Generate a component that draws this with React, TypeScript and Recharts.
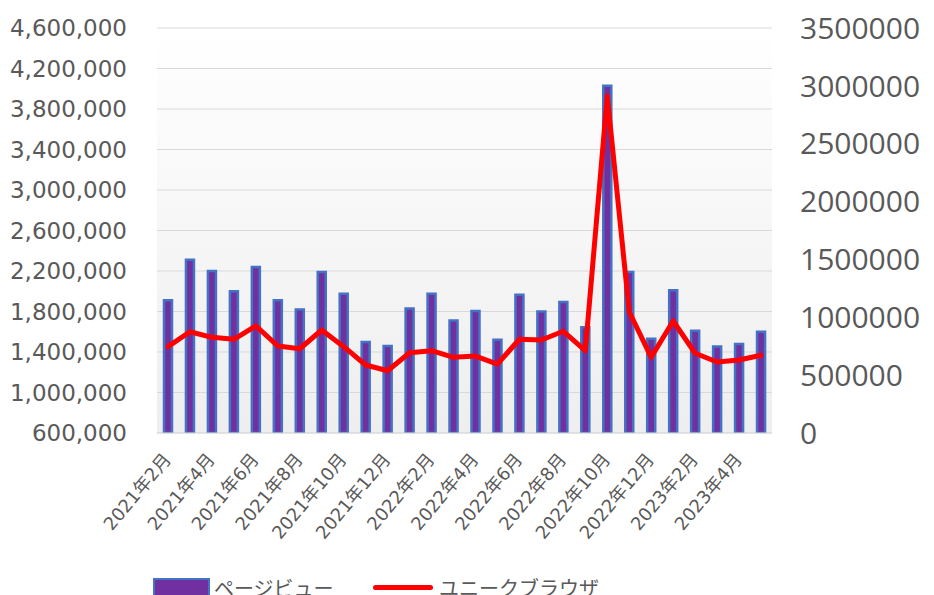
import React from 'react';
import { ComposedChart, Bar, Line, XAxis, YAxis, CartesianGrid, Legend } from 'recharts';

const months = [
  '2021年2月', '2021年3月', '2021年4月', '2021年5月', '2021年6月', '2021年7月', '2021年8月',
  '2021年9月', '2021年10月', '2021年11月', '2021年12月', '2022年1月', '2022年2月', '2022年3月',
  '2022年4月', '2022年5月', '2022年6月', '2022年7月', '2022年8月', '2022年9月', '2022年10月',
  '2022年11月', '2022年12月', '2023年1月', '2023年2月', '2023年3月', '2023年4月', '2023年5月',
];

const pageViews = [
  1910000, 2310000, 2200000, 2000000, 2240000, 1910000, 1820000,
  2190000, 1975000, 1500000, 1460000, 1830000, 1975000, 1710000,
  1805000, 1520000, 1965000, 1800000, 1895000, 1645000, 4030000,
  2190000, 1530000, 2010000, 1610000, 1455000, 1480000, 1600000,
];

const uniqueBrowsers = [
  746000, 875000, 827000, 810000, 925000, 752000, 728000,
  890000, 746000, 588000, 538000, 694000, 711000, 654000,
  665000, 596000, 810000, 804000, 879000, 711000, 2912000,
  1048000, 654000, 968000, 689000, 614000, 631000, 672000,
];

const leftTicks = [600000, 1000000, 1400000, 1800000, 2200000, 2600000, 3000000, 3400000, 3800000, 4200000, 4600000];
const rightTicks = [0, 500000, 1000000, 1500000, 2000000, 2500000, 3000000, 3500000];

const seriesNames = { pv: 'ページビュー', ub: 'ユニークブラウザ' };

const data = months.map((m, i) => ({ month: m, pv: pageViews[i], ub: uniqueBrowsers[i] }));

const XTick = (props: any) => {
  const { x, y, payload } = props;
  return (
    <g transform={`translate(${x + 4},${y + 27}) rotate(-50)`}>
      <text
        x={0}
        y={0}
        textAnchor="end"
        fill="#595959"
        fontSize={18}
        fontFamily="'DejaVu Sans', 'Noto Sans CJK JP', sans-serif"
      >
        {payload.value}
      </text>
    </g>
  );
};

const LegendContent = () => (
  <div style={{ position: 'relative', width: 500, height: 40, fontFamily: "'Noto Sans CJK JP', sans-serif", color: '#595959' }}>
    <div style={{ position: 'absolute', left: 5, top: 10, width: 53, height: 18, background: '#7030a0', border: '2px solid #4472c4' }} />
    <div style={{ position: 'absolute', left: 66, top: 8, fontSize: 20, lineHeight: '24px', whiteSpace: 'nowrap' }}>{seriesNames.pv}</div>
    <div style={{ position: 'absolute', left: 225, top: 17, width: 60, height: 5, borderRadius: 3, background: '#ff0000' }} />
    <div style={{ position: 'absolute', left: 291, top: 8, fontSize: 20, lineHeight: '24px', whiteSpace: 'nowrap' }}>{seriesNames.ub}</div>
  </div>
);

export default function App() {
  return (
    <div style={{ width: 926, height: 587, overflow: 'hidden' }}>
      <ComposedChart width={926} height={587} data={data} margin={{ top: 20, right: 0, bottom: 32, left: 0 }}>
        <defs>
          <linearGradient id="plotBg" x1="0" y1="0" x2="0" y2="1">
            <stop offset="0%" stopColor="#ffffff" />
            <stop offset="100%" stopColor="#eeeeee" />
          </linearGradient>
        </defs>
        <CartesianGrid vertical={false} yAxisId="left" stroke="#d9d9d9" fill="url(#plotBg)" fillOpacity={1} />
        <XAxis
          dataKey="month"
          interval={1}
          tickLine={false}
          tickSize={0}
          tickMargin={0}
          axisLine={{ stroke: '#d9d9d9' }}
          height={130}
          tick={<XTick />}
        />
        <YAxis
          yAxisId="left"
          orientation="left"
          width={149}
          domain={[600000, 4600000]}
          ticks={leftTicks}
          allowDataOverflow
          axisLine={false}
          tickLine={false}
          tickSize={0}
          tickMargin={30}
          tickFormatter={(v: number) => v.toLocaleString('en-US')}
          tick={{ fill: '#595959', fontSize: 23, fontFamily: "'DejaVu Sans', sans-serif" }}
        />
        <YAxis
          yAxisId="right"
          orientation="right"
          width={162}
          domain={[0, 3500000]}
          ticks={rightTicks}
          axisLine={false}
          tickLine={false}
          tickSize={0}
          tickMargin={28}
          tick={{ fill: '#595959', fontSize: 30, fontFamily: "'Open Sans', sans-serif", textAnchor: 'start' }}
        />
        <Bar
          yAxisId="left"
          dataKey="pv"
          name={seriesNames.pv}
          barSize={8}
          fill="#7030a0"
          stroke="#4472c4"
          strokeWidth={2.5}
          isAnimationActive={false}
        />
        <Line
          yAxisId="right"
          dataKey="ub"
          name={seriesNames.ub}
          type="linear"
          stroke="#ff0000"
          strokeWidth={5}
          strokeLinejoin="round"
          strokeLinecap="round"
          dot={false}
          activeDot={false}
          isAnimationActive={false}
        />
        <Legend
          layout="horizontal"
          verticalAlign="middle"
          align="center"
          content={<LegendContent />}
          wrapperStyle={{ position: 'absolute', left: 140, top: 560, width: 500, height: 40 }}
        />
      </ComposedChart>
    </div>
  );
}
